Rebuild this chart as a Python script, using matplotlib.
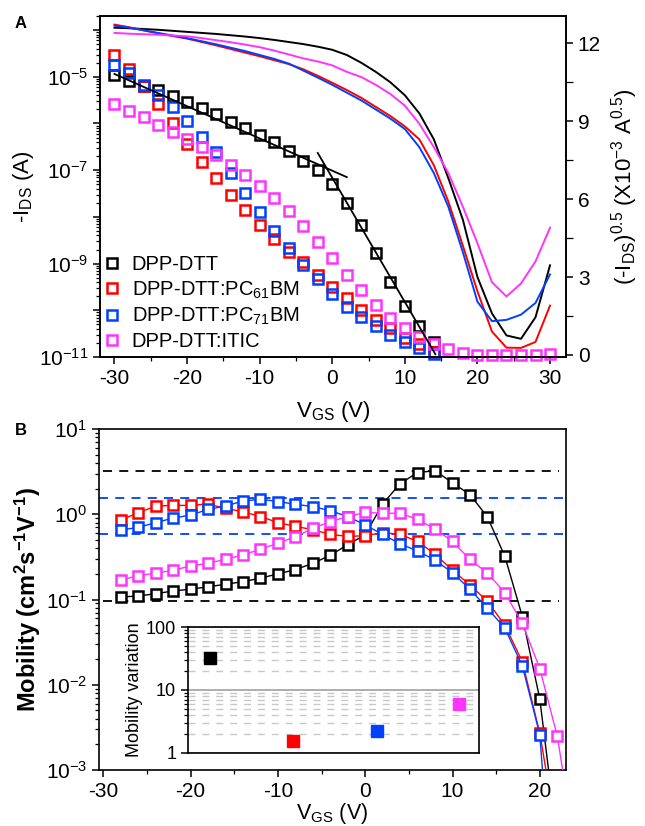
import numpy as np
import matplotlib
matplotlib.use('Agg')
import matplotlib.pyplot as plt
from matplotlib.ticker import FixedLocator, FuncFormatter, MultipleLocator, NullFormatter, LogLocator

plt.rcParams['font.family'] = 'Liberation Sans'
plt.rcParams['mathtext.fontset'] = 'custom'
plt.rcParams['mathtext.rm'] = 'Liberation Sans'
plt.rcParams['mathtext.it'] = 'Liberation Sans:italic'
plt.rcParams['mathtext.bf'] = 'Liberation Sans:bold'
plt.rcParams['mathtext.default'] = 'regular'
plt.rcParams['axes.unicode_minus'] = False

# series names and colours
names = ['DPP-DTT', 'DPP-DTT:PC$_{61}$BM', 'DPP-DTT:PC$_{71}$BM', 'DPP-DTT:ITIC']
colors = ['#000000', '#ff0000', '#0040ff', '#ff33ff']

# --- panel A: transfer curves ---
vg_a = list(range(-30, 32, 2))

ids_black = [1.10e-5, 8.1e-6, 6.5e-6, 5.2e-6, 3.9e-6, 2.9e-6, 2.1e-6, 1.6e-6, 1.1e-6, 7.9e-7,
             5.6e-7, 4.0e-7, 2.6e-7, 1.55e-7, 1.0e-7, 5.1e-8, 2.0e-8, 6.6e-9, 1.7e-9, 4.1e-10,
             1.26e-10, 4.5e-11, 2.1e-11]
ids_red = [2.95e-5, 1.48e-5, 6.5e-6, 2.6e-6, 1.02e-6, 3.6e-7, 1.48e-7, 6.8e-8, 2.95e-8, 1.38e-8,
           6.6e-9, 3.3e-9, 1.74e-9, 1.1e-9, 5.8e-10, 3.2e-10, 1.86e-10, 1.02e-10, 6.3e-11, 4.2e-11,
           2.6e-11, 1.9e-11, 1.3e-11]
ids_blue = [1.82e-5, 1.23e-5, 6.8e-6, 4.1e-6, 2.3e-6, 1.12e-6, 5.1e-7, 2.45e-7, 8.5e-8, 3.2e-8,
            1.26e-8, 5.1e-9, 2.2e-9, 9.5e-10, 4.6e-10, 2.2e-10, 1.2e-10, 7.2e-11, 4.5e-11, 2.95e-11,
            2.1e-11, 1.55e-11, 1.15e-11]
ids_magenta = [2.6e-6, 1.86e-6, 1.38e-6, 9.3e-7, 6.6e-7, 4.7e-7, 3.1e-7, 2.1e-7, 1.29e-7, 7.8e-8,
               4.6e-8, 2.5e-8, 1.32e-8, 6.3e-9, 2.95e-9, 1.32e-9, 5.8e-10, 2.75e-10, 1.32e-10, 6.9e-11,
               4.2e-11, 2.7e-11, 1.9e-11, 1.48e-11, 1.23e-11, 1.1e-11, 1.1e-11, 1.1e-11, 1.12e-11, 1.12e-11,
               1.15e-11]
ids_all = [ids_black, ids_red, ids_blue, ids_magenta]

# square root of the current, in 1e-3 A^0.5
sq_black = [12.6, 12.58, 12.55, 12.52, 12.48, 12.44, 12.40, 12.36, 12.31, 12.26, 12.2, 12.13, 12.05,
            11.97, 11.87, 11.75, 11.55, 11.25, 10.9, 10.5, 10.0, 9.3, 8.3, 6.8, 5.2, 3.0, 1.6, 0.75,
            0.62, 1.45, 3.45]
sq_red = [12.72, 12.62, 12.5, 12.38, 12.28, 12.18, 12.05, 11.92, 11.78, 11.64, 11.5, 11.35, 11.2,
          11.0, 10.75, 10.48, 10.2, 9.9, 9.55, 9.2, 8.8, 8.3, 7.3, 5.9, 4.2, 2.45, 0.9, 0.28, 0.27,
          0.5, 1.9]
sq_blue = [12.68, 12.6, 12.5, 12.4, 12.3, 12.2, 12.08, 11.96, 11.83, 11.7, 11.55, 11.4, 11.22,
           10.95, 10.68, 10.4, 10.1, 9.8, 9.45, 9.1, 8.7, 8.0, 7.0, 5.7, 3.95, 2.05, 1.3, 1.35, 1.55,
           2.0, 3.1]
sq_magenta = [12.4, 12.37, 12.35, 12.33, 12.3, 12.27, 12.2, 12.12, 12.04, 11.95, 11.85, 11.72, 11.57,
              11.42, 11.3, 11.15, 10.9, 10.7, 10.4, 10.05, 9.6, 8.9, 8.0, 7.0, 5.7, 4.3, 2.8, 2.25,
              2.75, 3.6, 4.9]
sq_all = [sq_black, sq_red, sq_blue, sq_magenta]

# linear fits drawn on the DPP-DTT curve
fit1_v = [-30, 2]
fit1_i = [1.15e-5, 7.1e-8]
fit2_v = [-2, 14.2]
fit2_i = [2.34e-7, 1.15e-11]

# --- panel B: mobility vs gate voltage ---
vg_b = list(range(-28, 26, 2))

mob_black = [0.107, 0.110, 0.117, 0.126, 0.132, 0.141, 0.151, 0.162, 0.178, 0.200, 0.224, 0.266, 0.33,
             0.44, 0.575, 1.32, 2.29, 3.09, 3.24, 2.34, 1.70, 0.93, 0.32, 0.063, 0.0068, 0.00015]
mob_red = [0.86, 1.04, 1.25, 1.27, 1.27, 1.32, 1.17, 1.07, 0.94, 0.80, 0.72, 0.66, 0.58, 0.55, 0.56,
           0.61, 0.58, 0.48, 0.34, 0.22, 0.148, 0.095, 0.050, 0.0186, 0.0027, 0.00016]
mob_blue = [0.655, 0.70, 0.80, 0.90, 0.98, 1.14, 1.25, 1.43, 1.50, 1.41, 1.31, 1.23, 1.10, 0.94, 0.75,
            0.58, 0.45, 0.37, 0.29, 0.206, 0.132, 0.079, 0.046, 0.0166, 0.0026, 5e-6]
mob_magenta = [0.17, 0.19, 0.204, 0.22, 0.248, 0.266, 0.296, 0.333, 0.39, 0.457, 0.546, 0.685, 0.82,
               0.94, 1.05, 1.03, 1.03, 0.87, 0.67, 0.48, 0.295, 0.204, 0.12, 0.0525, 0.0155, 0.0025,
               0.00013]
mob_all = [mob_black, mob_red, mob_blue, mob_magenta]

black_levels = [3.22, 0.095]
blue_levels = [1.55, 0.59]

# max/min mobility ratio for each blend (inset)
variation = [32, 1.55, 2.25, 6.0]
variation_pos = [0.76, 3.6, 6.5, 9.3]


def style_axis(ax):
    for sp in ax.spines.values():
        sp.set_linewidth(1.2)
    ax.tick_params(which='major', direction='out', length=5, width=1.1, labelsize=15)
    ax.tick_params(which='minor', direction='out', length=2.8, width=0.9)


def log_label(val, pos):
    e = int(round(np.log10(val)))
    return '$10^{%d}$' % e


fig = plt.figure(figsize=(6.45, 8.26), dpi=100)

# panel A
ax_a = fig.add_axes([0.155, 0.5678, 0.7225, 0.4128])
for vals, c, n in zip(ids_all, colors, names):
    ax_a.plot(vg_a[:len(vals)], vals, 's', mfc='none', mec=c, ms=6.5, mew=1.8, ls='none',
              label=n, clip_on=False, zorder=3)
ax_a.plot(fit1_v, fit1_i, color='k', lw=1.3, zorder=4)
ax_a.plot(fit2_v, fit2_i, color='k', lw=1.3, zorder=4)
ax_a.set_yscale('log')
ax_a.set_xlim(-32, 32.2)
ax_a.set_ylim(1e-11, 2e-4)
ax_a.xaxis.set_major_locator(MultipleLocator(10))
ax_a.xaxis.set_minor_locator(MultipleLocator(5))
ax_a.yaxis.set_major_locator(FixedLocator([10.0 ** e for e in range(-11, -3)]))
ax_a.yaxis.set_major_formatter(FuncFormatter(
    lambda v, p: log_label(v, p) if int(round(np.log10(v))) % 2 else ''))
ax_a.yaxis.set_minor_locator(LogLocator(base=10, subs=np.arange(2, 10), numticks=20))
ax_a.yaxis.set_minor_formatter(NullFormatter())
style_axis(ax_a)
ax_a.set_xlabel('V$_{GS}$ (V)', fontsize=16, labelpad=8)
ax_a.set_ylabel('-I$_{DS}$ (A)', fontsize=16, labelpad=2)

ax_r = ax_a.twinx()
for vals, c in zip(sq_all, colors):
    ax_r.plot(vg_a, vals, color=c, lw=1.4)
ax_r.set_ylim(-0.08, 13.05)
ax_r.yaxis.set_major_locator(MultipleLocator(3))
ax_r.yaxis.set_minor_locator(MultipleLocator(1.5))
style_axis(ax_r)
ax_r.tick_params(which='minor', length=5)
ax_r.set_ylabel('(-I$_{DS}$)$^{0.5}$ (X10$^{-3}$ A$^{0.5}$)', fontsize=16, labelpad=6)

leg = ax_a.legend(loc='lower left', frameon=False, fontsize=14.5, handlelength=0.8,
                  handletextpad=0.6, labelspacing=0.25, borderaxespad=0.2,
                  bbox_to_anchor=(-0.018, -0.018))

# panel B
ax_b = fig.add_axes([0.1535, 0.0678, 0.724, 0.4128])
ax_b.hlines(black_levels, -30, 22.2, colors='k', linestyles=(0, (5, 4)), lw=1.3, zorder=1)
for lv in blue_levels:
    ax_b.axhline(lv, color='#0040ff', ls=(0, (5, 4)), lw=1.3, zorder=1)
for vals, c in zip(mob_all, colors):
    ax_b.plot(vg_b[:len(vals)], vals, '-s', color=c, lw=1.0, mfc='white', mec=c, ms=6.5,
              mew=1.8, zorder=3)
ax_b.set_yscale('log')
ax_b.set_xlim(-30.5, 23)
ax_b.set_ylim(1e-3, 10)
ax_b.xaxis.set_major_locator(MultipleLocator(10))
ax_b.xaxis.set_minor_locator(MultipleLocator(5))
ax_b.yaxis.set_major_formatter(FuncFormatter(log_label))
ax_b.yaxis.set_minor_locator(LogLocator(base=10, subs=np.arange(2, 10), numticks=20))
ax_b.yaxis.set_minor_formatter(NullFormatter())
style_axis(ax_b)
ax_b.set_xlabel('V$_{GS}$ (V)', fontsize=15.5, labelpad=0)
ax_b.set_ylabel('Mobility (cm$^{2}$s$^{-1}$V$^{-1}$)', fontsize=17, fontweight='bold', labelpad=2)

# inset: mobility variation
ax_i = fig.add_axes([0.2915, 0.0884, 0.4511, 0.1525])
ax_i.set_yscale('log')
ax_i.set_ylim(1, 100)
ax_i.set_xlim(0, 10)
ax_i.yaxis.set_minor_locator(LogLocator(base=10, subs=np.arange(2, 10), numticks=20))
ax_i.yaxis.set_minor_formatter(NullFormatter())
ax_i.yaxis.set_major_formatter(FuncFormatter(lambda v, p: '%d' % round(v)))
ax_i.grid(which='minor', axis='y', color='#c8c8c8', ls=(0, (5, 5)), lw=1.0)
ax_i.grid(which='major', axis='y', color='#a0a0a0', ls='-', lw=1.2)
ax_i.set_xticks([])
for pos, val, c in zip(variation_pos, variation, colors):
    ax_i.plot([pos], [val], 's', color=c, ms=8, zorder=3)
style_axis(ax_i)
ax_i.tick_params(labelsize=13)
ax_i.set_ylabel('Mobility variation', fontsize=13, labelpad=2)

fig.text(0.023, 0.972, 'A', fontsize=12, fontweight='bold', va='center')
fig.text(0.023, 0.479, 'B', fontsize=12, fontweight='bold', va='center')

fig.savefig('out.png', dpi=100)
